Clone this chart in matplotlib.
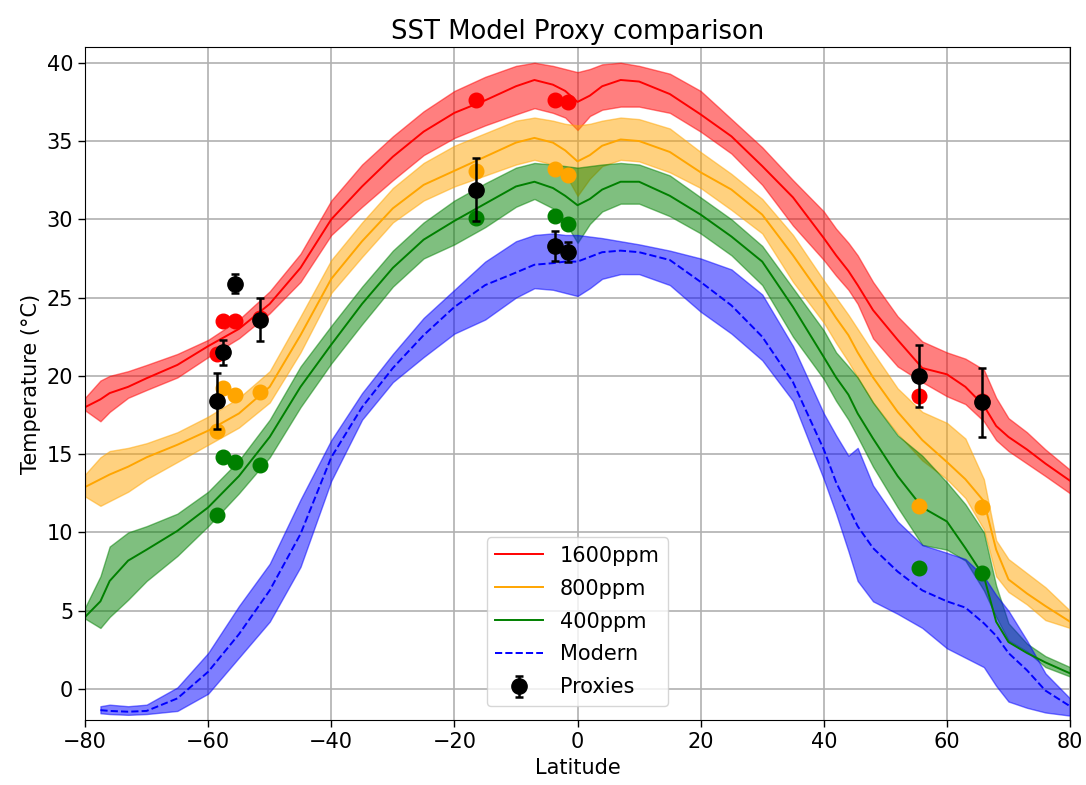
import numpy as np
import matplotlib
matplotlib.use("Agg")
import matplotlib.pyplot as plt

nan = np.nan
lat = [-80, -77.5, -76, -73, -70, -65, -60, -55, -50, -45, -40, -35, -30, -25, -20,
       -15, -10, -7, -4, -2, 0, 2, 4, 7, 10, 15, 20, 25, 30, 35, 40, 42, 44, 45.5,
       48, 52, 56, 60, 63, 66, 68, 70, 73, 76, 80]

red_mean = [18.0, 18.5, 18.9, 19.3, 19.85, 20.7, 21.9, 23.0, 24.6, 26.9, 30.0, 32.1, 34.0, 35.6, 36.8,
            37.6, 38.5, 38.9, 38.6, 38.2, 37.5, 37.9, 38.5, 38.9, 38.8, 38.0, 36.7, 35.3, 33.4, 31.4, 28.8, 27.7, 26.7, 25.8,
            24.2, 22.3, 20.5, 20.1, 19.3, 18.1, 16.8, 16.1, 15.3, 14.4, 13.3]
red_hi = [18.6, 19.7, 20.0, 20.3, 20.7, 21.4, 22.3, 23.6, 25.4, 27.8, 31.2, 33.5, 35.3, 36.9, 38.2,
          39.1, 39.8, 40.0, 39.8, 39.6, 39.4, 39.6, 39.9, 40.0, 39.8, 39.3, 38.2, 36.4, 34.6, 32.5, 30.5, 29.4, 28.5, 27.7,
          26.0, 23.8, 22.2, 21.5, 21.1, 20.4, 18.6, 17.3, 16.4, 15.3, 14.0]
red_lo = [17.8, 17.1, 17.7, 18.6, 19.1, 19.9, 21.2, 22.4, 24.0, 26.0, 29.0, 30.8, 32.5, 34.1, 35.2,
          36.0, 36.7, 37.1, 36.8, 36.5, 35.7, 36.6, 37.0, 37.2, 37.2, 36.8, 35.6, 34.2, 32.2, 29.6, 27.4, 26.4, 25.5, 24.6,
          22.4, 20.6, 19.6, 18.7, 18.2, 17.1, 15.9, 15.2, 14.4, 13.6, 12.5]

orange_mean = [12.9, 13.4, 13.7, 14.2, 14.8, 15.6, 16.5, 17.6, 19.3, 22.6, 26.2, 28.6, 30.7, 32.2, 33.1,
               34.0, 34.9, 35.2, 34.9, 34.4, 33.7, 34.1, 34.7, 35.1, 35.0, 34.3, 33.0, 31.9, 30.3, 27.7, 24.9, 23.7, 22.6, 21.5,
               19.9, 17.7, 15.9, 14.5, 13.4, 12.0, 8.9, 7.0, 6.1, 5.3, 4.3]
orange_hi = [13.7, 14.8, 15.2, 15.4, 15.7, 16.4, 17.4, 18.6, 20.3, 23.8, 27.4, 29.8, 32.0, 33.6, 34.7,
             35.5, 36.3, 36.5, 36.3, 36.1, 36.0, 36.1, 36.3, 36.5, 36.4, 35.8, 34.3, 32.9, 31.3, 29.0, 26.1, 25.0, 23.9, 23.0,
             21.5, 19.2, 17.7, 17.0, 16.0, 13.4, 9.5, 8.3, 7.4, 6.5, 5.0]
orange_lo = [12.3, 11.7, 12.0, 12.6, 13.4, 14.5, 15.6, 16.7, 18.3, 21.5, 25.3, 27.6, 29.8, 31.2, 32.1,
             32.8, 33.5, 33.8, 33.5, 32.9, 31.5, 32.6, 33.4, 33.8, 33.7, 33.0, 32.0, 30.6, 29.1, 26.0, 23.4, 22.1, 20.9, 19.9,
             18.3, 16.3, 14.6, 13.4, 12.2, 10.2, 7.2, 6.2, 5.4, 4.4, 3.9]

green_mean = [4.6, 5.6, 6.9, 8.2, 8.9, 10.1, 11.6, 13.6, 16.1, 19.3, 22.0, 24.6, 26.9, 28.7, 29.9,
              31.0, 32.1, 32.4, 32.0, 31.5, 30.9, 31.3, 31.9, 32.4, 32.4, 31.5, 30.3, 28.9, 27.3, 24.4, 21.2, 19.9, 18.8, 17.6,
              16.0, 13.6, 11.6, 10.7, 9.0, 7.2, 4.3, 3.0, 2.3, 1.7, 1.0]
green_hi = [5.2, 7.2, 9.1, 10.0, 10.4, 11.2, 12.6, 14.6, 17.2, 20.6, 23.2, 25.7, 28.0, 29.8, 31.2,
            32.3, 33.3, 33.6, 33.5, 33.4, 33.3, 33.4, 33.5, 33.6, 33.5, 32.8, 31.4, 30.0, 28.3, 25.6, 22.9, 21.5, 20.6, 19.9,
            18.3, 16.2, 14.9, 13.2, 11.8, 10.0, 6.6, 4.2, 2.9, 2.1, 1.4]
green_lo = [4.5, 3.9, 4.6, 5.7, 6.9, 8.5, 10.4, 12.5, 14.8, 18.0, 20.8, 23.3, 25.7, 27.5, 28.4,
            29.5, 30.8, 31.3, 30.7, 29.8, 28.5, 29.7, 30.5, 31.0, 31.0, 30.2, 29.1, 27.7, 25.8, 22.5, 19.8, 18.4, 17.2, 16.1,
            14.2, 11.6, 9.2, 8.9, 8.2, 6.3, 4.6, 3.1, 2.4, 1.4, 0.8]

modern_mean = [nan, -1.35, -1.4, -1.45, -1.4, -0.6, 1.1, 3.5, 6.3, 9.9, 14.8, 18.0, 20.5, 22.6, 24.4,
               25.8, 26.6, 27.1, 27.2, 27.3, 27.3, 27.6, 27.9, 28.0, 27.9, 27.4, 26.0, 24.5, 22.5, 19.6, 15.3, 13.2, 11.6, 10.4,
               9.0, 7.5, 6.3, 5.6, 5.2, 4.2, 3.4, 2.3, 1.2, -0.1, -1.1]
modern_hi = [nan, -1.1, -1.0, -1.1, -1.0, 0.1, 2.3, 5.3, 8.0, 12.1, 15.9, 18.9, 21.4, 23.7, 25.5,
             27.3, 28.6, 29.0, 29.1, 29.0, 29.0, 28.9, 28.8, 28.6, 28.4, 28.0, 27.5, 26.8, 25.2, 21.9, 17.6, 16.2, 14.9, 15.4,
             13.0, 10.7, 9.2, 8.7, 8.3, 7.2, 6.0, 5.0, 3.1, 1.0, -0.6]
modern_lo = [nan, -1.55, -1.6, -1.65, -1.6, -1.4, -0.3, 2.0, 4.3, 7.8, 13.3, 17.2, 19.6, 21.2, 22.7,
             23.6, 25.0, 25.6, 25.5, 25.3, 25.1, 25.6, 26.2, 26.5, 26.5, 25.8, 24.1, 22.7, 21.0, 18.4, 13.4, 11.2, 8.8, 6.9,
             5.6, 4.8, 3.9, 2.6, 2.0, 1.4, 0.2, -0.8, -1.2, -1.5, -1.7]

# proxy sites
site_lat = [-58.6, -57.6, -55.6, -51.6, -16.5, -3.6, -1.6, 55.5, 65.7]
proxy_temp = [18.4, 21.5, 25.9, 23.6, 31.9, 28.3, 27.9, 20.0, 18.3]
proxy_err = [1.8, 0.8, 0.6, 1.4, 2.0, 0.95, 0.65, 2.0, 2.2]
site_red = [21.4, 23.5, 23.5, 23.7, 37.6, 37.6, 37.5, 18.7, 18.4]
site_orange = [16.5, 19.2, 18.8, 19.0, 33.1, 33.2, 32.8, 11.7, 11.6]
site_green = [11.1, 14.8, 14.5, 14.3, 30.1, 30.2, 29.7, 7.7, 7.4]

FS = 15
fig = plt.figure(figsize=(10.86, 7.85), dpi=100)
ax = fig.add_axes([0.0783, 0.0824, 0.907, 0.8576])

series = [
    ("1600ppm", "red", "-", red_mean, red_lo, red_hi),
    ("800ppm", "orange", "-", orange_mean, orange_lo, orange_hi),
    ("400ppm", "green", "-", green_mean, green_lo, green_hi),
    ("Modern", "blue", "--", modern_mean, modern_lo, modern_hi),
]
for name, col, ls, m, lo, hi in series:
    ax.plot(lat, m, color=col, ls=ls, lw=1.4, label=name)
    ax.fill_between(lat, lo, hi, color=col, alpha=0.5)

ms = 10.5
ax.plot(site_lat, site_red, "o", color="red", ms=ms, zorder=5)
ax.plot(site_lat, site_orange, "o", color="orange", ms=ms, zorder=5)
ax.plot(site_lat, site_green, "o", color="green", ms=ms, zorder=5)
ax.errorbar(site_lat, proxy_temp, yerr=proxy_err, fmt="o", color="black", ms=11,
            elinewidth=1.8, capsize=3.2, capthick=1.8, label="Proxies", zorder=6)

ax.set_xlim(-80, 80)
ax.set_ylim(-2, 41)
ax.set_xticks(np.arange(-80, 81, 20))
ax.set_yticks(np.arange(0, 41, 5))
ax.grid(True, color="#b0b0b0", lw=1.2)
ax.set_axisbelow(True)
ax.tick_params(labelsize=FS, length=5, width=1)
ax.set_xlabel("Latitude", fontsize=FS)
ax.set_ylabel("Temperature (°C)", fontsize=FS)
ax.set_title("SST Model Proxy comparison", fontsize=FS * 1.24)
ax.legend(loc="lower center", fontsize=FS, labelspacing=0.62, handlelength=2.3,
          borderaxespad=0.7)

fig.savefig("out.png", dpi=100)
